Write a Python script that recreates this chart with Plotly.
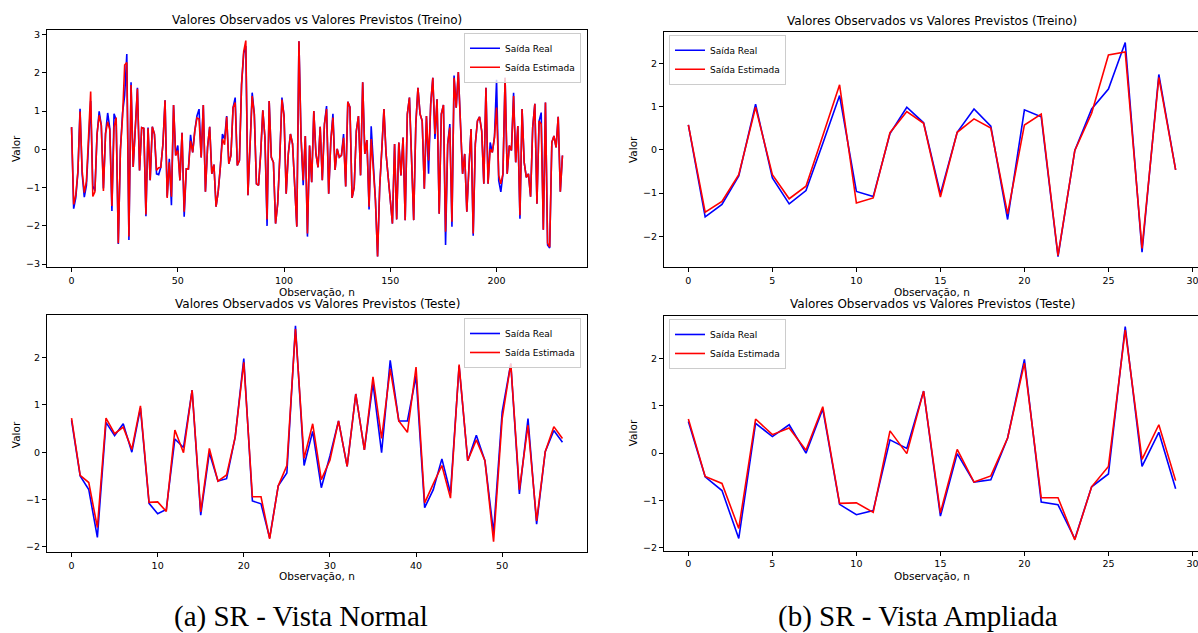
import plotly.graph_objects as go

# valores (treino: 232 amostras, teste: 58 amostras)
obs_train = [0.58, -1.55, -1.26, -0.60, 1.06, -0.65, -1.25, -0.94, 0.15, 1.26,
             -0.96, -1.08, 0.38, 0.99, 0.63, -1.02, 0.41, 0.95, 0.55, -1.61,
             0.93, 0.77, -2.47, -0.01, 0.95, 1.41, 2.49, -2.37, 1.75, -0.46,
             0.55, 1.61, -0.55, 0.57, 0.55, -1.75, 0.57, -0.81, 0.59, 0.40,
             -0.64, -0.66, -0.47, 0.14, 1.28, -1.24, -0.25, -1.46, 1.16, -0.16,
             0.10, -0.81, 0.43, -1.76, -0.51, -0.51, 0.38, -0.08, 0.48, 0.87,
             1.05, -0.21, 1.16, -1.11, 0.05, 0.59, -0.64, -0.40, -1.50, -1.11,
             -0.47, 0.40, 0.27, 0.87, -0.38, -0.16, 1.09, 1.35, -0.42, -0.29,
             1.69, 2.50, 2.70, -1.20, 0.10, 1.48, 0.92, -0.90, -0.94, -0.12,
             1.02, 0.31, -2.00, 1.26, -0.21, -0.34, -1.94, -1.42, -0.20, 1.35,
             0.87, -1.16, -0.12, 0.40, 0.14, -0.90, -2.02, 2.82, 0.31, -0.94,
             0.35, -2.28, 0.10, -0.86, 1.00, -0.12, -0.47, 0.59, -0.81, 0.66,
             1.13, -1.16, 0.22, 0.93, -0.54, 0.01, -0.21, -0.16, 0.40, -0.97,
             1.24, 1.10, -1.27, -0.99, 0.48, 0.87, -0.68, 1.75, -0.12, 0.24,
             -1.57, 0.60, -0.47, -1.33, -2.80, -0.99, 0.00, 1.05, -0.12, -0.81,
             -1.33, -1.94, 0.14, -1.83, 0.18, -0.68, 0.31, -1.85, 0.92, 1.35,
             -0.29, -1.85, 0.66, 1.61, 0.92, 0.74, -1.03, 0.87, -0.64, 1.18,
             1.87, 0.27, 1.31, -1.68, 0.92, 1.16, -2.50, 0.14, 0.66, -2.02,
             1.93, 1.09, 2.02, 0.83, -0.64, -0.12, -1.63, -0.47, 0.53, -2.26,
             0.14, 0.74, 0.85, 0.48, -0.90, 1.61, -0.90, 0.18, -0.08, 0.31,
             1.82, -0.81, -1.11, -0.64, 1.87, -0.64, 0.10, -0.03, 1.48, -0.34,
             0.61, -1.81, 1.05, -0.34, -0.73, -0.64, -1.24, 0.57, 1.19, -1.42,
             0.74, 0.96, -2.10, 1.22, -2.50, -2.58, 0.18, 0.35, 0.05, 0.85,
             -1.11, -0.16]

est_train = [0.58, -1.44, -1.19, -0.57, 0.99, -0.57, -1.13, -0.84, 0.33, 1.51,
             -1.23, -1.11, 0.40, 0.89, 0.62, -1.09, 0.41, 0.72, 0.51, -1.48,
             0.58, 0.83, -2.45, -0.01, 0.85, 2.20, 2.27, -2.28, 1.68, -0.46,
             0.55, 1.58, -0.55, 0.57, 0.55, -1.70, 0.55, -0.81, 0.59, 0.40,
             -0.55, -0.48, -0.47, 0.14, 1.28, -1.27, -0.34, -1.24, 1.16, -0.16,
             -0.03, -0.81, 0.43, -1.63, -0.51, -0.51, 0.22, -0.08, 0.48, 0.82,
             0.79, -0.21, 1.16, -1.11, 0.05, 0.59, -0.64, -0.40, -1.50, -1.11,
             -0.47, 0.27, 0.12, 0.85, -0.38, -0.16, 1.09, 1.22, -0.42, -0.29,
             1.69, 2.55, 2.84, -1.20, 0.10, 1.39, 0.92, -0.90, -0.94, -0.12,
             1.02, 0.31, -1.83, 1.26, -0.21, -0.34, -1.94, -1.42, -0.20, 1.30,
             0.87, -1.16, -0.12, 0.40, 0.14, -0.90, -2.02, 2.82, 0.31, -0.81,
             0.35, -2.20, 0.10, -0.86, 1.00, -0.12, -0.47, 0.59, -0.81, 0.66,
             1.05, -1.16, 0.22, 0.83, -0.54, 0.01, -0.21, -0.16, 0.30, -0.97,
             1.24, 1.10, -1.27, -0.99, 0.48, 0.87, -0.68, 1.75, -0.12, 0.24,
             -1.50, 0.27, -0.47, -1.33, -2.80, -0.99, 0.00, 1.05, -0.12, -0.81,
             -1.33, -1.94, 0.14, -1.83, 0.18, -0.68, 0.31, -1.85, 0.92, 1.35,
             -0.29, -1.85, 0.66, 1.61, 0.92, 0.74, -1.03, 0.87, -0.29, 1.18,
             1.87, 0.40, 1.31, -1.68, 0.92, 1.16, -2.15, 0.14, 0.57, -1.89,
             1.87, 1.09, 2.02, 0.83, -0.64, -0.12, -1.63, -0.47, 0.53, -2.20,
             0.14, 0.74, 0.85, 0.48, -0.90, 1.61, -0.90, 0.01, -0.08, 0.31,
             1.09, -0.68, -0.90, -0.64, 1.87, -0.64, 0.10, -0.03, 1.39, -0.34,
             0.61, -1.72, 1.05, -0.34, -0.73, -0.64, -1.24, 0.57, 1.19, -1.42,
             0.74, 0.66, -2.10, 1.22, -2.45, -2.55, 0.18, 0.35, 0.05, 0.85,
             -1.11, -0.16]

obs_test = [0.67, -0.50, -0.79, -1.80, 0.63, 0.35, 0.60, 0.00, 0.93, -1.08,
            -1.30, -1.21, 0.28, 0.10, 1.31, -1.33, -0.01, -0.61, -0.56, 0.32,
            1.98, -1.03, -1.09, -1.81, -0.71, -0.44, 2.67, -0.28, 0.44, -0.75,
            -0.08, 0.66, -0.30, 1.23, 0.05, 1.46, -0.01, 1.94, 0.66, 0.66,
            1.61, -1.17, -0.79, -0.14, -0.86, 1.82, -0.18, 0.36, -0.18, -1.70,
            0.85, 1.87, -0.88, 0.71, -1.52, 0.01, 0.46, 0.21]

est_test = [0.72, -0.49, -0.64, -1.59, 0.72, 0.39, 0.53, 0.06, 0.98, -1.06,
            -1.05, -1.25, 0.47, -0.01, 1.31, -1.26, 0.08, -0.61, -0.48, 0.32,
            1.90, -0.94, -0.94, -1.83, -0.71, -0.28, 2.60, -0.13, 0.60, -0.58,
            -0.17, 0.66, -0.30, 1.23, 0.05, 1.59, 0.29, 1.76, 0.66, 0.42,
            1.80, -1.07, -0.67, -0.28, -0.97, 1.85, -0.18, 0.26, -0.18, -1.89,
            0.71, 1.87, -0.79, 0.57, -1.45, 0.01, 0.54, 0.29]

n_zoom = 30  # vista ampliada: primeiras 30 observacoes

W, H = 1198, 633
FONT = "DejaVu Sans"


def lims(*series):
    lo = min(min(s) for s in series)
    hi = max(max(s) for s in series)
    m = 0.05 * (hi - lo)
    return [lo - m, hi + m]


def px_x(p):
    return p / W


def px_y(p):
    return 1 - p / H


panels = [
    # (sufixo, obs, est, dominio x, dominio y, dtick x, legenda, canto)
    ("", obs_train, est_train, [47, 587], [29, 268], 50, "legend", "right"),
    ("3", obs_test, est_test, [47, 587], [316, 555], 10, "legend3", "right"),
    ("2", obs_train[:n_zoom], est_train[:n_zoom], [664, 1200], [31, 268], 5, "legend2", "left"),
    ("4", obs_test[:n_zoom], est_test[:n_zoom], [664, 1200], [317, 553], 5, "legend4", "left"),
]

fig = go.Figure()
layout = dict(
    width=W, height=H,
    margin=dict(l=0, r=0, t=0, b=0),
    paper_bgcolor="white", plot_bgcolor="white",
    font=dict(family=FONT, size=10, color="black"),
    showlegend=True,
    hovermode=False,
)

for suf, obs, est, dx, dy, dt, leg, corner in panels:
    xs = list(range(len(obs)))
    xa = "x" + suf
    ya = "y" + suf
    fig.add_trace(go.Scatter(x=xs, y=obs, mode="lines", name="Saída Real",
                             line=dict(color="blue", width=1.6),
                             xaxis=xa, yaxis=ya, legend=leg))
    fig.add_trace(go.Scatter(x=xs, y=est, mode="lines", name="Saída Estimada",
                             line=dict(color="red", width=1.6),
                             xaxis=xa, yaxis=ya, legend=leg))

    n = len(obs) - 1
    xr = [-0.05 * n, n + 0.05 * n]
    right_cut = dx[1] > W
    xdom = [px_x(dx[0]), min(1.0, px_x(dx[1]))]
    if right_cut:
        # o painel da direita sai da imagem: corta o intervalo proporcionalmente
        span = xr[1] - xr[0]
        xr = [xr[0], xr[0] + span * (W - dx[0]) / (dx[1] - dx[0])]

    axis_common = dict(showgrid=False, zeroline=False, showline=True,
                       linecolor="black", linewidth=1, ticks="outside",
                       ticklen=4, tickwidth=1, tickcolor="black",
                       ticklabeloverflow="allow",
                       tickfont=dict(family=FONT, size=9.5, color="black"))
    layout["xaxis" + suf] = dict(axis_common, domain=xdom, range=xr,
                                 anchor=ya, tick0=0, dtick=dt, mirror=True)
    layout["yaxis" + suf] = dict(axis_common, domain=[px_y(dy[1]), px_y(dy[0])],
                                 range=lims(obs, est), anchor=xa, dtick=1,
                                 mirror=not right_cut)

    if corner == "right":
        layout[leg] = dict(x=px_x(dx[1] - 6), xanchor="right", y=px_y(dy[0] + 3), yanchor="top")
    else:
        layout[leg] = dict(x=px_x(dx[0] + 5), xanchor="left", y=px_y(dy[0] + 3), yanchor="top")
    layout[leg].update(bgcolor="rgba(255,255,255,0.8)", bordercolor="#cccccc",
                       borderwidth=1, font=dict(family=FONT, size=9, color="black"),
                       itemwidth=30, tracegroupgap=0)

annotations = []


def text(x, y, s, size, angle=0, family=FONT):
    annotations.append(dict(x=px_x(x), y=px_y(y), xref="paper", yref="paper",
                            text=s, showarrow=False, xanchor="center",
                            yanchor="middle", textangle=angle,
                            font=dict(family=family, size=size, color="black")))


text(317, 19, "Valores Observados vs Valores Previstos (Treino)", 12)
text(317, 305, "Valores Observados vs Valores Previstos (Teste)", 12)
text(932, 20, "Valores Observados vs Valores Previstos (Treino)", 12)
text(932, 305, "Valores Observados vs Valores Previstos (Teste)", 12)
text(317, 293, "Observação, n", 10.5)
text(317, 579, "Observação, n", 10.5)
text(932, 293, "Observação, n", 10.5)
text(932, 579, "Observação, n", 10.5)
text(16, 149, "Valor", 10.5, -90)
text(16, 437, "Valor", 10.5, -90)
text(633, 150, "Valor", 10.5, -90)
text(633, 435, "Valor", 10.5, -90)
text(301, 619, "(a) SR - Vista Normal", 29, family="Liberation Serif")
text(918, 619, "(b) SR - Vista Ampliada", 29, family="Liberation Serif")

layout["annotations"] = annotations
fig.update_layout(**layout)
# a pagina tem margem de 8px no body por padrao; a figura ocupa a janela toda
fig.write_html("out.html", config={"displayModeBar": False},
               post_script="document.body.style.margin='0';")
